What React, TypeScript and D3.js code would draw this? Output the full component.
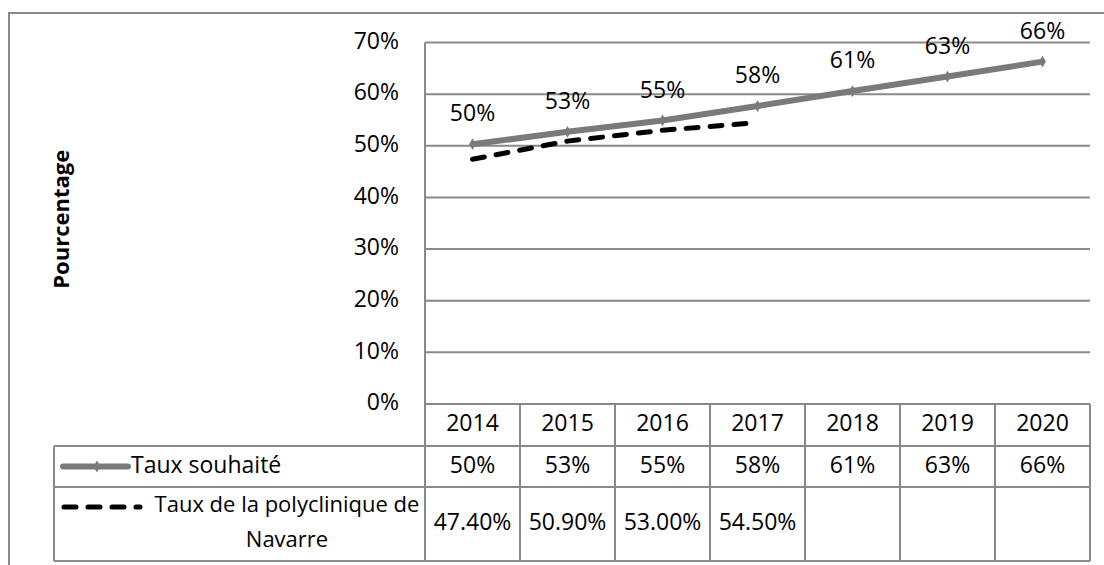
import * as d3 from "d3"

const years = ["2014", "2015", "2016", "2017", "2018", "2019", "2020"]
const targetRate = [0.503, 0.527, 0.549, 0.577, 0.606, 0.634, 0.663]
const clinicRate = [0.474, 0.509, 0.53, 0.545]
const yTicks = [0, 0.1, 0.2, 0.3, 0.4, 0.5, 0.6, 0.7]
const seriesNames = ["Taux souhaité", "Taux de la polyclinique de", "Navarre"]

const FONT = "'Open Sans', sans-serif"
const GRID = "#898989"
const LINE = "#7a7a7a"
const FS = 23

export default function App() {
  const width = 1104
  const height = 565
  const plotLeft = 425
  const plotRight = 1090
  const plotTop = 42.5
  const plotBottom = 404

  const x = d3.scaleBand().domain(years).range([plotLeft, plotRight])
  const y = d3.scaleLinear().domain([0, 0.7]).range([plotBottom, plotTop])
  const cx = (yr: string) => x(yr)! + x.bandwidth() / 2

  const pct0 = d3.format(".0%")
  const pct2 = d3.format(".2%")

  const solid = d3
    .line<number>()
    .x((_, i) => cx(years[i]))
    .y((d) => y(d))
  const diamond = d3.symbol(d3.symbolDiamond, 40)()!

  // table rows
  const headTop = plotBottom
  const row1 = 446
  const row2 = 487
  const tableBottom = 561
  const legendLeft = 54

  return (
    <svg
      width={width}
      height={height}
      style={{ position: "absolute", left: 0, top: 0, background: "#fff" }}
      fontFamily={FONT}
    >
      {/* outer border, cut off at right/bottom */}
      <rect x={9} y={13} width={1120} height={580} fill="none" stroke={GRID} strokeWidth={2} />

      {/* gridlines */}
      {yTicks.map((t) => (
        <line key={t} x1={plotLeft} x2={plotRight} y1={y(t)} y2={y(t)} stroke={GRID} strokeWidth={2} />
      ))}
      <line x1={plotLeft} x2={plotLeft} y1={plotTop} y2={tableBottom} stroke={GRID} strokeWidth={2} />

      {/* y tick labels */}
      {yTicks.map((t) => (
        <text key={t} x={399} y={y(t)} textAnchor="end" dominantBaseline="middle" fontSize={FS} fill="#000">
          {pct0(t)}
        </text>
      ))}

      {/* axis title */}
      <text
        transform={`translate(63,${(plotTop + plotBottom) / 2 - 4}) rotate(-90)`}
        textAnchor="middle"
        dominantBaseline="middle"
        fontSize={22}
        fontWeight="bold"
        fill="#000"
      >
        Pourcentage
      </text>

      {/* table lines */}
      <line x1={legendLeft} x2={plotRight} y1={row1} y2={row1} stroke={GRID} strokeWidth={2} />
      <line x1={legendLeft} x2={plotRight} y1={row2} y2={row2} stroke={GRID} strokeWidth={2} />
      <line x1={legendLeft} x2={plotRight} y1={tableBottom} y2={tableBottom} stroke={GRID} strokeWidth={2} />
      <line x1={legendLeft} x2={legendLeft} y1={row1} y2={tableBottom} stroke={GRID} strokeWidth={2} />
      {years.map((yr) => (
        <line key={yr} x1={x(yr)! + x.bandwidth()} x2={x(yr)! + x.bandwidth()} y1={headTop} y2={tableBottom} stroke={GRID} strokeWidth={2} />
      ))}

      {/* table texts */}
      {years.map((yr, i) => (
        <g key={yr} fontSize={FS} fill="#000" textAnchor="middle">
          <text x={cx(yr)} y={(headTop + row1) / 2} dominantBaseline="middle">{yr}</text>
          <text x={cx(yr)} y={(row1 + row2) / 2} dominantBaseline="middle">{pct0(targetRate[i])}</text>
          {clinicRate[i] !== undefined && (
            <text x={cx(yr)} y={(row2 + tableBottom) / 2} dominantBaseline="middle">{pct2(clinicRate[i])}</text>
          )}
        </g>
      ))}

      {/* legend keys */}
      <line x1={63} x2={128} y1={(row1 + row2) / 2} y2={(row1 + row2) / 2} stroke={LINE} strokeWidth={6} strokeLinecap="round" />
      <path d={diamond} transform={`translate(97,${(row1 + row2) / 2})`} fill={LINE} />
      <text x={131} y={(row1 + row2) / 2} dominantBaseline="middle" fontSize={FS} fill="#000">
        {seriesNames[0]}
      </text>
      <line x1={64} x2={140} y1={507} y2={507} stroke="#000" strokeWidth={5} strokeLinecap="round" strokeDasharray="12 12" />
      <text x={287} y={506} textAnchor="middle" dominantBaseline="middle" fontSize={22} fill="#000">
        {seriesNames[1]}
      </text>
      <text x={287} y={541} textAnchor="middle" dominantBaseline="middle" fontSize={22} fill="#000">
        {seriesNames[2]}
      </text>

      {/* series */}
      <path d={solid(clinicRate)!} fill="none" stroke="#000" strokeWidth={5} strokeLinecap="round" strokeDasharray="12 12" />
      <path d={solid(targetRate)!} fill="none" stroke={LINE} strokeWidth={6} strokeLinejoin="round" />
      {targetRate.map((v, i) => (
        <path key={i} d={diamond} transform={`translate(${cx(years[i])},${y(v)})`} fill={LINE} />
      ))}

      {/* data labels */}
      {targetRate.map((v, i) => (
        <text key={i} x={cx(years[i])} y={y(v) - 29} textAnchor="middle" dominantBaseline="middle" fontSize={FS} fill="#000">
          {pct0(v)}
        </text>
      ))}
    </svg>
  )
}
